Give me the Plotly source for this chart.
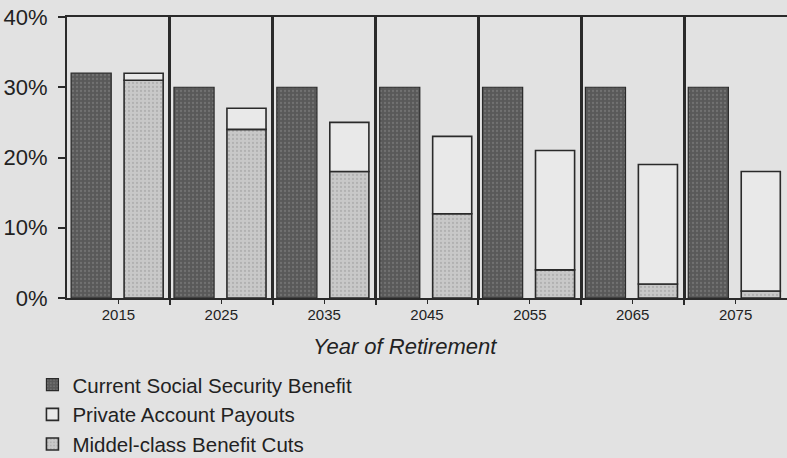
import plotly.graph_objects as go

years = ["2015", "2025", "2035", "2045", "2055", "2065", "2075"]
current_benefit = [32, 30, 30, 30, 30, 30, 30]
benefit_cuts = [31, 24, 18, 12, 4, 2, 1]
private_payouts = [1, 3, 7, 11, 17, 17, 17]
y_ticks = [0, 10, 20, 30, 40]
y_labels = ["0%", "10%", "20%", "30%", "40%"]

xpos = list(range(len(years)))
bounds = [i - 0.5 for i in xpos]

BG = "#e2e2e2"
LINE = "#2a2a2a"
FONT = "Liberation Sans, Arial, sans-serif"

fig = go.Figure()
fig.add_trace(go.Bar(
    x=xpos, y=current_benefit, name="Current Social Security Benefit",
    width=0.39, offset=-0.46, legendrank=1,
    marker=dict(color="#595959", line=dict(color=LINE, width=1.2),
                pattern=dict(shape=".", fgcolor="#8a8a8a", size=4, solidity=0.25)),
))
fig.add_trace(go.Bar(
    x=xpos, y=benefit_cuts, name="Middel-class Benefit Cuts",
    width=0.38, offset=0.055, legendrank=3,
    marker=dict(color="#c8c8c8", line=dict(color=LINE, width=1.6),
                pattern=dict(shape=".", fgcolor="#9a9a9a", size=4, solidity=0.25)),
))
fig.add_trace(go.Bar(
    x=xpos, y=private_payouts, base=benefit_cuts, name="Private Account Payouts",
    width=0.38, offset=0.055, legendrank=2,
    marker=dict(color="#e9e9e9", line=dict(color=LINE, width=1.6)),
))

fig.add_annotation(
    text="<i>Year of Retirement</i>", xref="paper", yref="paper",
    x=0.469, y=-0.172, showarrow=False, xanchor="center", yanchor="middle",
    font=dict(family=FONT, size=22, color="#222"),
)

fig.update_layout(
    width=787, height=458,
    margin=dict(l=67, r=0, t=17, b=160, autoexpand=False),
    paper_bgcolor=BG, plot_bgcolor=BG,
    barmode="overlay",
    showlegend=True,
    legend=dict(
        x=-0.048, y=-0.238, xanchor="left", yanchor="top",
        orientation="v", bgcolor="rgba(0,0,0,0)",
        font=dict(family=FONT, size=20.5, color="#222"),
        traceorder="normal",
    ),
    xaxis=dict(
        range=[-0.5, 6.5], tickmode="array", tickvals=xpos, ticktext=years,
        showgrid=False, zeroline=False,
        showline=True, linecolor=LINE, linewidth=2, mirror=True,
        ticks="outside", ticklen=4, tickcolor=LINE, tickwidth=1,
        ticklabelstandoff=-2,
        tickfont=dict(family=FONT, size=15, color="#222"),
        minor=dict(tickmode="array", tickvals=bounds[1:], ticks="outside",
                   ticklen=5, tickcolor=LINE, tickwidth=1.5,
                   showgrid=True, gridcolor=LINE, gridwidth=3),
    ),
    yaxis=dict(
        range=[0, 40], tickmode="array", tickvals=y_ticks, ticktext=y_labels,
        showgrid=False, zeroline=False,
        showline=True, linecolor=LINE, linewidth=2,
        ticks="outside", ticklen=7, tickcolor=LINE, tickwidth=1.5,
        ticklabelstandoff=6,
        tickfont=dict(family=FONT, size=22, color="#222"),
    ),
)

fig.write_html(
    "out.html",
    config={"displayModeBar": False},
    post_script="document.body.style.margin='0';document.body.style.background='%s';" % BG,
)
